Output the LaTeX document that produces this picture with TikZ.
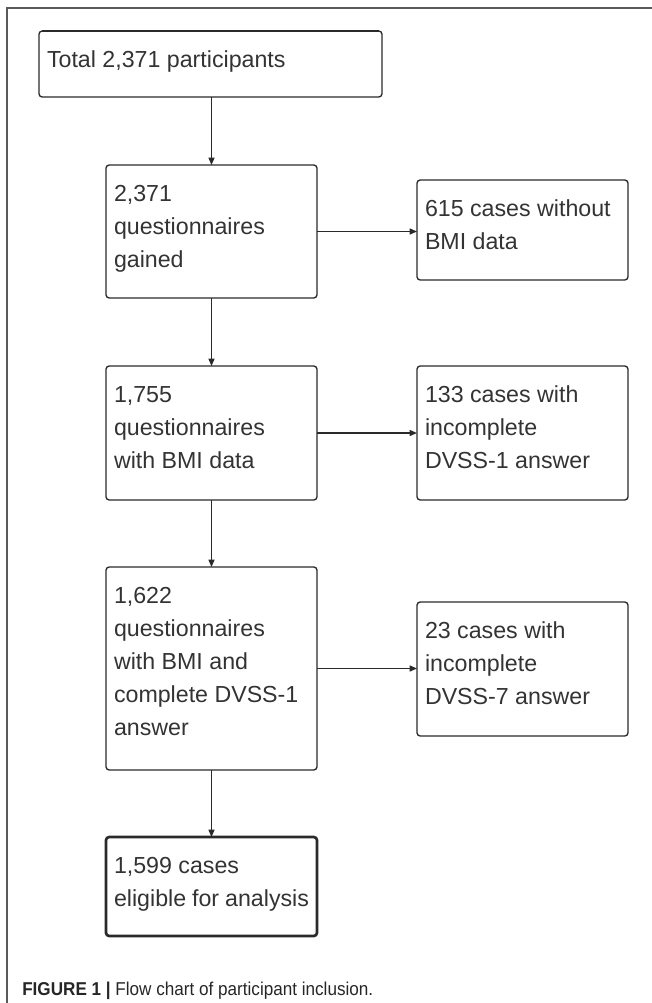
\documentclass[tikz,border=0pt]{standalone}
\usepackage{fontspec}
\setmainfont{Liberation Sans}
\newfontfamily\capfont[FakeStretch=0.92]{Liberation Sans}
\usetikzlibrary{arrows.meta}
\newlength\px \setlength\px{0.75pt}
\definecolor{ink}{HTML}{2A2A2A}
\definecolor{txt}{HTML}{333333}
\definecolor{framecol}{HTML}{5A5A5A}
\newcommand\boxtxt[3]{\parbox[c][#2\px][t]{#1\px}{\fontsize{17.4pt}{24.75pt}\selectfont\raggedright\rule{0pt}{36\px}#3}}
\tikzset{
  fbox/.style={draw=ink, line width=1pt, rounded corners=2.4pt, inner xsep=8\px, inner ysep=0pt, outer sep=0pt, anchor=north west, text=txt},
  finalbox/.style={fbox, line width=2pt},
  flowarrow/.style={draw=ink, line width=1pt, -{Triangle[length=5.5pt,width=4.5pt]}},
  framestyle/.style={draw=framecol, line width=0.9pt}
}
\begin{document}
\begin{tikzpicture}[x=0.75pt, y=-0.75pt]
\useasboundingbox (0,0) rectangle (652,1003);
% frame
\coordinate (fa) at (7,1003);
\coordinate (fb) at (7,8);
\coordinate (fc) at (652,8);
\draw[framestyle] (fa) -- (fb) -- (fc);
% boxes
\node[fbox] (top) at (39,31) {\boxtxt{327}{66}{Total 2,371 participants}};
\draw[draw=ink, line width=1.6pt] ([xshift=2.4pt]top.north west) -- ([xshift=-2.4pt]top.north east);
\node[fbox] (b2) at (106,165) {\boxtxt{195}{133}{2,371\\questionnaires\\gained}};
\node[fbox] (r1) at (417,180) {\boxtxt{195}{100}{615 cases without\\BMI data}};
\node[fbox] (b3) at (106,366) {\boxtxt{195}{134}{1,755\\questionnaires\\with BMI data}};
\node[fbox] (r2) at (417,366) {\boxtxt{195}{134}{133 cases with\\incomplete\\DVSS-1 answer}};
\node[fbox] (b4) at (106,567) {\boxtxt{195}{203}{1,622\\questionnaires\\with BMI and\\complete DVSS-1\\answer}};
\node[fbox] (r3) at (417,602) {\boxtxt{195}{134}{23 cases with\\incomplete\\DVSS-7 answer}};
\node[finalbox] (b5) at (106,837) {\boxtxt{195}{99}{1,599 cases\\eligible for analysis}};
% arrows
\draw[flowarrow] (top.south -| b2.north) -- (b2.north);
\draw[flowarrow] (b2.south) -- (b3.north);
\draw[flowarrow] (b3.south) -- (b4.north);
\draw[flowarrow] (b4.south) -- (b5.north);
\draw[flowarrow] (b2.east) -- (b2.east -| r1.west);
\draw[flowarrow] (b3.east) -- (b3.east -| r2.west);
\draw[flowarrow] (b4.east) -- (b4.east -| r3.west);
% caption
\node[anchor=base west, inner sep=0pt, text=black!85, font=\capfont\fontsize{13.95pt}{16pt}\selectfont] (cap) at (22,995) {\textbf{FIGURE 1 |} Flow chart of participant inclusion.};
\end{tikzpicture}
\end{document}
